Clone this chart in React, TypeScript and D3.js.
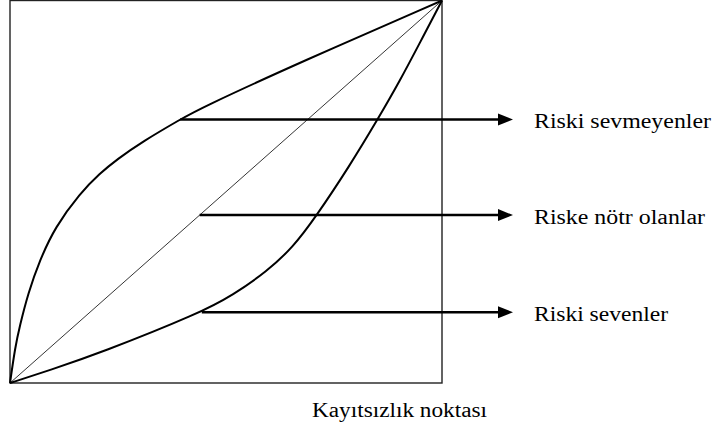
import { useEffect, useRef } from "react";
import * as d3 from "d3";

// curve points, both axes normalised to 0..1
const averseU = [0, 0.012, 0.022, 0.042, 0.069, 0.104, 0.162, 0.208, 0.248, 0.308, 0.394, 0.44, 0.671, 1];
const averseV = [0, 0.094, 0.146, 0.235, 0.321, 0.407, 0.496, 0.548, 0.585, 0.632, 0.689, 0.718, 0.838, 1];

const loverU = [0, 0.093, 0.208, 0.44, 0.516, 0.595, 0.655, 0.706, 0.787, 0.85, 0.903, 0.949, 1];
const loverV = [0, 0.034, 0.078, 0.183, 0.23, 0.292, 0.355, 0.431, 0.569, 0.687, 0.791, 0.89, 1];

const neutralU = [0, 1];
const neutralV = [0, 1];

const labels = ["Riski sevmeyenler", "Riske nötr olanlar", "Riski sevenler"];
const arrowLevel = [0.689, 0.439, 0.185];
const arrowStart = [0.394, 0.439, 0.444];

const xTitle = "Kayıtsızlık noktası";

export default function App() {
    const svgRef = useRef<SVGSVGElement>(null);

    useEffect(() => {
        if (!svgRef.current) return;
        const svg = d3.select(svgRef.current);
        svg.selectAll("*").remove();

        const box = { left: 10, top: 0.5, right: 442, bottom: 383 };
        const x = d3.scaleLinear().domain([0, 1]).range([box.left, box.right]);
        const y = d3.scaleLinear().domain([0, 1]).range([box.bottom, box.top]);

        const font = "'Liberation Serif', 'Times New Roman', serif";
        // the source text is a little stretched sideways
        const labelWidths = [177, 171, 134];

        svg.append("rect")
            .attr("x", x(0))
            .attr("y", y(1))
            .attr("width", x(1) - x(0))
            .attr("height", y(0) - y(1))
            .attr("fill", "none")
            .attr("stroke", "#222")
            .attr("stroke-width", 1.4);

        const line = d3
            .line<[number, number]>()
            .x((d) => x(d[0]))
            .y((d) => y(d[1]))
            .curve(d3.curveBasis);

        const curves = [
            { u: averseU, v: averseV, w: 2 },
            { u: neutralU, v: neutralV, w: 0.8 },
            { u: loverU, v: loverV, w: 2 },
        ];

        curves.forEach((c) => {
            svg.append("path")
                .attr("d", line(c.u.map((u, i) => [u, c.v[i]] as [number, number])) ?? "")
                .attr("fill", "none")
                .attr("stroke", "#000")
                .attr("stroke-width", c.w);
        });

        const arrowEnd = 513;
        const headLen = 15;

        labels.forEach((label, i) => {
            const yy = y(arrowLevel[i]);
            svg.append("line")
                .attr("x1", x(arrowStart[i]))
                .attr("x2", arrowEnd - headLen + 1)
                .attr("y1", yy)
                .attr("y2", yy)
                .attr("stroke", "#000")
                .attr("stroke-width", 2.5);

            svg.append("path")
                .attr("d", `M${arrowEnd},${yy}L${arrowEnd - headLen},${yy - 6}L${arrowEnd - headLen},${yy + 6}Z`)
                .attr("fill", "#000");

            svg.append("text")
                .attr("x", 534)
                .attr("y", yy + 8.5)
                .style("font-family", font)
                .style("font-size", "20px")
                .attr("textLength", labelWidths[i])
                .attr("lengthAdjust", "spacingAndGlyphs")
                .attr("fill", "#000")
                .text(label);
        });

        svg.append("text")
            .attr("x", 312)
            .attr("y", 417)
            .style("font-family", font)
            .style("font-size", "20px")
            .attr("textLength", 175)
            .attr("lengthAdjust", "spacingAndGlyphs")
            .attr("fill", "#000")
            .text(xTitle);
    }, []);

    return (
        <svg
            ref={svgRef}
            width={713}
            height={425}
            style={{ position: "absolute", left: 0, top: 0, background: "#fff" }}
        />
    );
}
